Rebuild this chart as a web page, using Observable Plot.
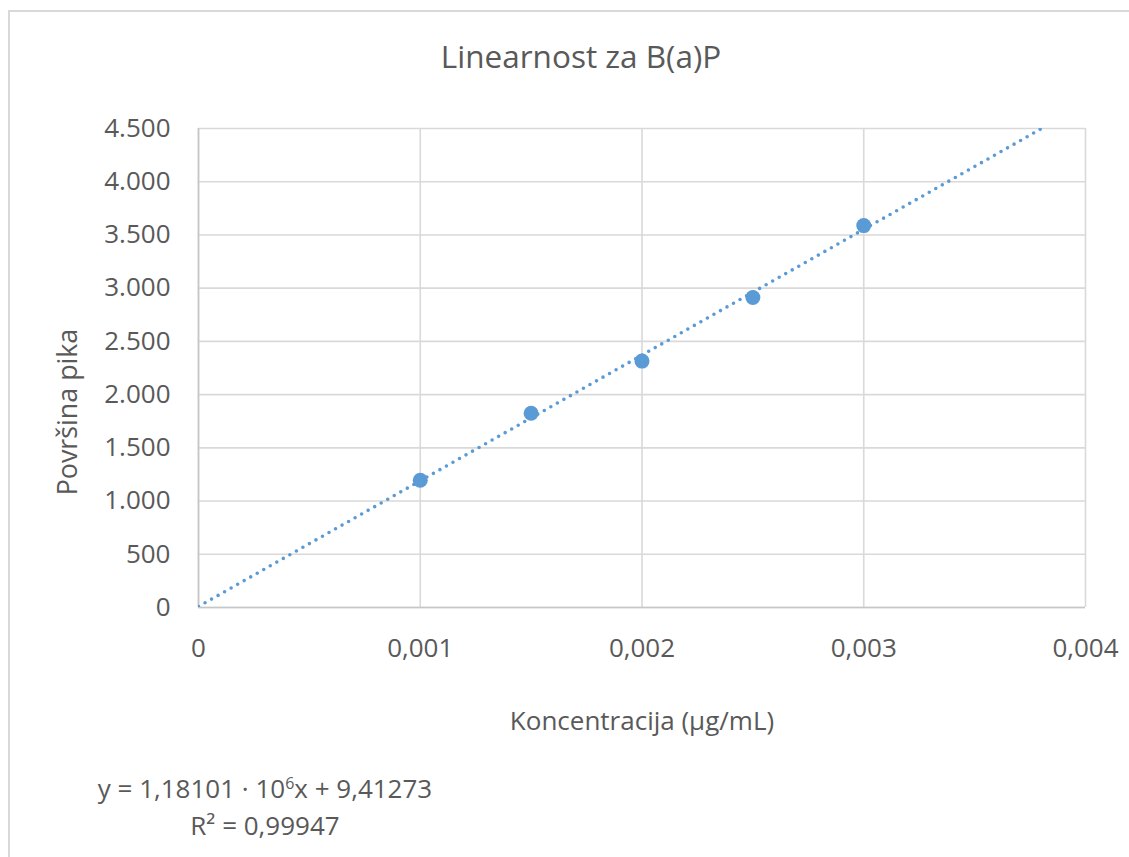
<!DOCTYPE html>
<html>
<head>
<meta charset="utf-8">
<script src="https://cdn.jsdelivr.net/npm/d3@7"></script>
<script src="https://cdn.jsdelivr.net/npm/@observablehq/plot@0.6"></script>
<style>
  html, body { margin: 0; padding: 0; background: #fff; overflow: hidden; }
  #wrap { position: relative; width: 1129px; height: 857px; font-family: "Open Sans", sans-serif; color: #595959; }
  #frame { position: absolute; left: 8px; top: 10px; width: 1300px; height: 1000px; border-left: 2px solid #d9d9d9; border-top: 2px solid #d9d9d9; }
  #title { position: absolute; left: 0; width: 1162px; top: 36px; text-align: center; font-size: 31.5px; line-height: 40px; }
  #chart { position: absolute; left: 0; top: 0; }
  #ylab { position: absolute; left: -83px; width: 300px; top: 392px; height: 40px; line-height: 40px; text-align: center; font-size: 26.8px; transform: rotate(-90deg); transform-origin: 150px 20px; }
  #eq { position: absolute; left: 15px; width: 500px; top: 770px; text-align: center; font-size: 26px; line-height: 37px; }
  #eq sup { font-size: 16px; line-height: 0; vertical-align: 9px; }
</style>
</head>
<body>
<div id="wrap">
  <div id="frame"></div>
  <div id="title">Linearnost za B(a)P</div>
  <div id="chart"></div>
  <div id="ylab">Površina pika</div>
  <div id="eq">y = 1,18101 · 10<sup>6</sup>x + 9,41273<br>R² = 0,99947</div>
</div>
<script>
// Data
const concentrations = [0.001, 0.0015, 0.002, 0.0025, 0.003];
const peakAreas = [1195, 1825, 2315, 2912, 3588];
// Trendline as stated on the chart: y = 1.18101e6 x + 9.41273
const trendSlope = 1181010;
const trendIntercept = 9.41273;
const trendX = [0, 0.004];
const xTicks = [0, 0.001, 0.002, 0.003, 0.004];
const yTicks = [0, 500, 1000, 1500, 2000, 2500, 3000, 3500, 4000, 4500];

const points = concentrations.map((c, i) => ({x: c, y: peakAreas[i]}));
const trend = trendX.map(x => ({x, y: trendSlope * x + trendIntercept}));

const loc = d3.formatLocale({decimal: ",", thousands: ".", grouping: [3], currency: ["", ""]});
const yFmt = loc.format(",d");
const xFmt = d => d === 0 ? "0" : loc.format(".3f")(d);

const blue = "#5b9bd5";
const grid = "#d9d9d9";

const chart = Plot.plot({
  width: 1129,
  height: 760,
  marginLeft: 198,
  marginRight: 44,
  marginTop: 128,
  marginBottom: 153,
  style: {fontFamily: "Open Sans, sans-serif", fontSize: "26px", color: "#595959", background: "transparent", overflow: "visible"},
  x: {domain: [0, 0.004]},
  y: {domain: [0, 4500]},
  marks: [
    Plot.gridX(xTicks, {stroke: grid, strokeOpacity: 1, strokeWidth: 1.6}),
    Plot.gridY(yTicks, {stroke: grid, strokeOpacity: 1, strokeWidth: 1.6}),
    Plot.ruleX([0], {stroke: "#c6c6c6", strokeWidth: 1.6}),
    Plot.ruleY([0], {stroke: "#c6c6c6", strokeWidth: 1.6}),
    Plot.axisX(xTicks, {tickSize: 0, tickPadding: 31, tickFormat: xFmt, label: null, fill: "#595959", fontSize: 26}),
    Plot.axisY(yTicks, {tickSize: 0, tickPadding: 28, tickFormat: yFmt, label: null, fill: "#595959", fontSize: 26}),
    Plot.line(trend, {x: "x", y: "y", stroke: blue, strokeWidth: 3.6, strokeDasharray: "0,7.5", strokeLinecap: "round", clip: true}),
    Plot.dot(points, {x: "x", y: "y", r: 7.5, fill: blue, stroke: "none"}),
    Plot.text(["Koncentracija (µg/mL)"], {text: d => d, frameAnchor: "bottom", dy: 122, fontSize: 26, fill: "#595959"})
  ]
});
document.getElementById("chart").appendChild(chart);
</script>
</body>
</html>
